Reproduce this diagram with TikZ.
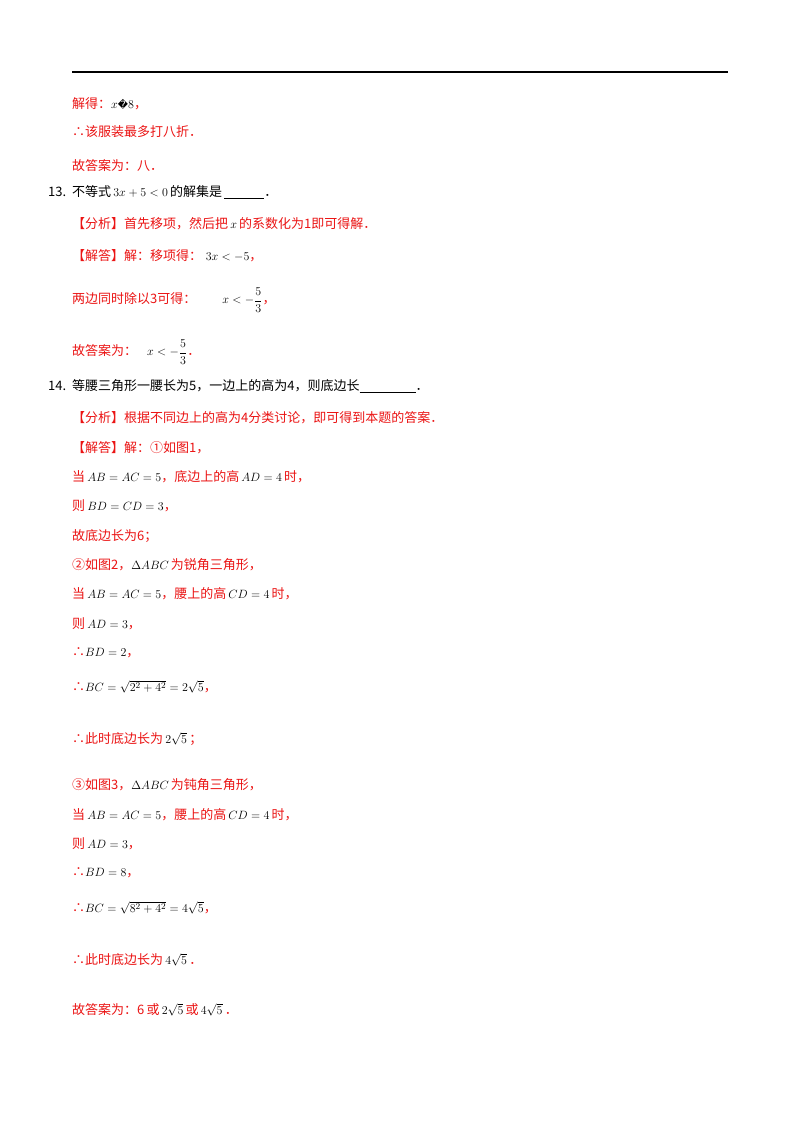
\documentclass[tikz,border=0pt]{standalone}
\usepackage{fontspec}
\usepackage{amsmath}
\setmainfont{Liberation Serif}
\newfontfamily\cjk{Noto Sans CJK SC}
\newfontfamily\dv{DejaVu Sans}
\definecolor{ansred}{RGB}{235,20,20}
\newcommand{\mm}[1]{{\color{black}$#1$}}
\begin{document}
\begin{tikzpicture}[x=1pt,y=-1pt,
  ln/.style={anchor=west,inner sep=0pt,font=\fontsize{13}{15}\selectfont\cjk,text=ansred},
  bk/.style={ln,text=black}]
\useasboundingbox[fill=white] (0,0) rectangle (800,1132);
\draw[line width=2pt] (72,72) -- (728,72);
\node[ln] (l1) at (72,104) {解得：\mm{x}{\color{black}\dv\fontsize{10}{10}\selectfont �}\mm{8}，};
\node[ln] (l2) at (72,132) {∴该服装最多打八折．};
\node[ln] (l3) at (72,166) {故答案为：八．};
\node[bk] (n13) at (48,192) {13.};
\node[bk] (l4) at (72,192) {不等式\,\mm{3x+5<0}\,的解集是\,\underline{\hspace{40pt}}．};
\node[ln] (l5) at (72,224) {【分析】首先移项，然后把\,\mm{x}\,的系数化为1即可得解．};
\node[ln] (l6) at (72,256) {【解答】解：移项得：\;\mm{3x<-5}，};
\node[ln] (l7) at (72,300) {两边同时除以3可得：\hspace{26pt}\mm{x<-\dfrac{5}{3}}，};
\node[ln] (l8) at (72,352) {故答案为：\hspace{10pt}\mm{x<-\dfrac{5}{3}}．};
\node[bk] (n14) at (48,386) {14.};
\node[bk] (l9) at (72,386) {等腰三角形一腰长为5，一边上的高为4，则底边长\underline{\hspace{56pt}}．};
\node[ln] (a1) at (72,418) {【分析】根据不同边上的高为4分类讨论，即可得到本题的答案．};
\node[ln] (a2) at (72,448) {【解答】解：①如图1，};
\node[ln] (a3) at (72,477) {当\,\mm{AB=AC=5}，底边上的高\,\mm{AD=4}\,时，};
\node[ln] (a4) at (72,506) {则\,\mm{BD=CD=3}，};
\node[ln] (a5) at (72,536) {故底边长为6；};
\node[ln] (a6) at (72,565) {②如图2，\mm{\Delta ABC}\,为锐角三角形，};
\node[ln] (a7) at (72,594) {当\,\mm{AB=AC=5}，腰上的高\,\mm{CD=4}\,时，};
\node[ln] (a8) at (72,624) {则\,\mm{AD=3}，};
\node[ln] (a9) at (72,653) {∴\mm{BD=2}，};
\node[ln] (a10) at (72,687) {∴\mm{BC=\sqrt{2^2+4^2}=2\sqrt{5}}，};
\node[ln] (a11) at (72,739) {∴此时底边长为\,\mm{2\sqrt{5}}\,；};
\node[ln] (a12) at (72,785) {③如图3，\mm{\Delta ABC}\,为钝角三角形，};
\node[ln] (a13) at (72,815) {当\,\mm{AB=AC=5}，腰上的高\,\mm{CD=4}\,时，};
\node[ln] (a14) at (72,844) {则\,\mm{AD=3}，};
\node[ln] (a15) at (72,873) {∴\mm{BD=8}，};
\node[ln] (a16) at (72,908) {∴\mm{BC=\sqrt{8^2+4^2}=4\sqrt{5}}，};
\node[ln] (a17) at (72,960) {∴此时底边长为\,\mm{4\sqrt{5}}\,．};
\node[ln] (a18) at (72,1010) {故答案为：6\,或\,\mm{2\sqrt{5}}\,或\,\mm{4\sqrt{5}}\,．};
\end{tikzpicture}
\end{document}
